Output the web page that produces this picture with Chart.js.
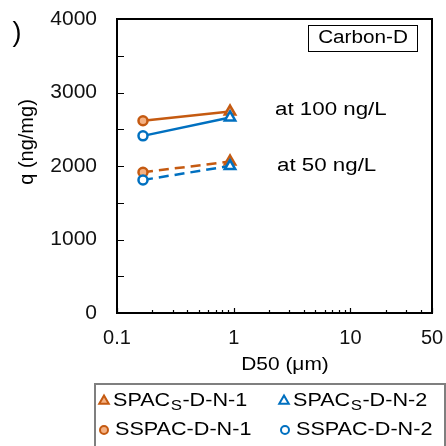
<!DOCTYPE html>
<html>
<head>
<meta charset="utf-8">
<script src="https://cdn.jsdelivr.net/npm/chart.js@4"></script>
<style>
	html, body { margin: 0; padding: 0; background: #fff; }
	#wrap { width: 446px; height: 446px; }
</style>
</head>
<body>
<div id="wrap"><canvas id="chart" width="446" height="446"></canvas></div>
<script>
// D50 of the two carbons: SSPAC (circles), SPACs (triangles)
const d50 = [0.167, 0.93];
const n1At100 = [2615, 2740];
const n2At100 = [2410, 2660];
const n1At50 = [1915, 2060];
const n2At50 = [1810, 2000];
const xTickLabels = [0.1, 1, 10, 50];
const yTickStep = 1000;
const levelLabels = ['at 100 ng/L', 'at 50 ng/L'];
const panelLabel = 'Carbon-D';
const legendNames = [
	['SPAC', 'S', '-D-N-1'],
	['SPAC', 'S', '-D-N-2'],
	['SSPAC', '', '-D-N-1'],
	['SSPAC', '', '-D-N-2'],
];

const orange = '#C55A11';
const orangeLight = '#F4B183';
const blue = '#0070C0';
const font = '"Liberation Sans", Arial, sans-serif';

function series(values, color, fill, dashed) {
	return {
		data: values.map((v, i) => ({ x: d50[i], y: v })),
		borderColor: color,
		borderWidth: 2.5,
		borderDash: dashed ? [10, 6] : [],
		pointStyle: ['circle', 'triangle'],
		pointRadius: [4.5, 6],
		pointBorderWidth: 2.5,
		pointBorderColor: color,
		pointBackgroundColor: fill,
		tension: 0,
	};
}

function textAt(ctx, text, x, y, size, align, sx) {
	ctx.save();
	ctx.font = `${size}px ${font}`;
	ctx.textBaseline = 'middle';
	ctx.textAlign = align;
	const w = ctx.measureText(text).width * sx;
	ctx.translate(x, y);
	ctx.scale(sx, 1);
	ctx.fillText(text, 0, 0);
	ctx.restore();
	return w;
}

function legendMarker(ctx, style, x, y, color, fill) {
	ctx.save();
	ctx.lineWidth = 2;
	ctx.strokeStyle = color;
	ctx.fillStyle = fill;
	ctx.beginPath();
	if (style === 'triangle') {
		const r = 5.5;
		ctx.moveTo(x, y - r);
		ctx.lineTo(x + r * 0.866, y + r / 2);
		ctx.lineTo(x - r * 0.866, y + r / 2);
		ctx.closePath();
	} else {
		ctx.arc(x, y, 4, 0, Math.PI * 2);
	}
	ctx.fill();
	ctx.stroke();
	ctx.restore();
}

function noPadding(scale) {
	scale.paddingTop = 0;
	scale.paddingBottom = 0;
	scale.paddingLeft = 0;
	scale.paddingRight = 0;
}

const decor = {
	id: 'decor',
	afterDraw(chart) {
		const ctx = chart.ctx;
		const a = chart.chartArea;
		const xs = chart.scales.x;
		const ys = chart.scales.y;
		ctx.save();
		ctx.strokeStyle = '#000';
		ctx.fillStyle = '#000';
		ctx.setLineDash([]);

		// inward tick marks
		ctx.lineWidth = 1.2;
		ctx.beginPath();
		xs.ticks.forEach((t) => {
			const px = Math.round(xs.getPixelForValue(t.value)) + 0.5;
			const len = xTickLabels.includes(t.value) ? 5 : 3;
			ctx.moveTo(px, a.bottom);
			ctx.lineTo(px, a.bottom - len);
		});
		ys.ticks.forEach((t) => {
			const py = Math.round(ys.getPixelForValue(t.value)) + 0.5;
			ctx.moveTo(a.left, py);
			ctx.lineTo(a.left + 7, py);
		});
		ctx.stroke();

		// frame
		ctx.lineWidth = 2;
		ctx.strokeRect(a.left, a.top, a.right - a.left, a.bottom - a.top);

		// panel letter (cut off) and axis titles
		textAt(ctx, ')', 17, 34, 27, 'center', 1);
		ctx.save();
		ctx.translate(27, 142);
		ctx.rotate(-Math.PI / 2);
		textAt(ctx, 'q (ng/mg)', 0, 0, 20, 'center', 1);
		ctx.restore();
		textAt(ctx, 'D50 (μm)', 285, 365, 19, 'center', 1.1);

		// Carbon-D box
		ctx.lineWidth = 1;
		ctx.strokeRect(308.5, 25.5, 109, 26);
		textAt(ctx, panelLabel, 363, 38.5, 18, 'center', 1.15);

		// concentration labels
		textAt(ctx, levelLabels[0], 275, 110, 18, 'left', 1.24);
		textAt(ctx, levelLabels[1], 277, 166, 18, 'left', 1.24);

		// legend
		ctx.strokeStyle = '#7F7F7F';
		ctx.lineWidth = 2;
		ctx.strokeRect(95, 384, 350, 80);
		const cells = [
			{ style: 'triangle', color: orange, fill: orangeLight, x: 104, tx: 113, y: 401 },
			{ style: 'triangle', color: blue, fill: '#fff', x: 284, tx: 293, y: 401 },
			{ style: 'circle', color: orange, fill: orangeLight, x: 104, tx: 115, y: 430 },
			{ style: 'circle', color: blue, fill: '#fff', x: 285, tx: 296, y: 430 },
		];
		cells.forEach((c, i) => {
			legendMarker(ctx, c.style, c.x, c.y, c.color, c.fill);
			const [main, sub, rest] = legendNames[i];
			let x = c.tx;
			x += textAt(ctx, main, x, c.y, 18, 'left', 1.2);
			if (sub) {
				x += textAt(ctx, sub, x + 0.5, c.y + 5, 14, 'left', 1.2) + 1;
			}
			textAt(ctx, rest, x, c.y, 18, 'left', 1.2);
		});
		ctx.restore();
	},
};

const ctx = document.getElementById('chart').getContext('2d');
const chart = new Chart(ctx, {
	type: 'line',
	data: {
		datasets: [
			series(n2At100, blue, '#fff', false),
			series(n1At100, orange, orangeLight, false),
			series(n2At50, blue, '#fff', true),
			series(n1At50, orange, orangeLight, true),
		],
	},
	options: {
		responsive: false,
		animation: false,
		layout: { padding: { top: 19, right: 14, left: 0, bottom: 0 } },
		plugins: { legend: { display: false }, tooltip: { enabled: false } },
		scales: {
			x: {
				type: 'logarithmic',
				min: 0.1,
				max: 50,
				grid: { display: false, drawTicks: false },
				border: { display: false },
				afterBuildTicks: (scale) => {
					const ticks = [];
					for (let e = -1; e <= 1; e++) {
						for (let m = 1; m <= 9; m++) {
							const v = parseFloat((m * Math.pow(10, e)).toPrecision(3));
							if (v <= 50) ticks.push({ value: v });
						}
					}
					scale.ticks = ticks;
				},
				afterFit: (scale) => {
					scale.height = 133;
					noPadding(scale);
				},
				ticks: {
					autoSkip: false,
					maxRotation: 0,
					padding: 13,
					color: '#111',
					font: { family: font, size: 20 },
					callback: (v) => (xTickLabels.includes(v) ? String(v) : ''),
				},
			},
			y: {
				min: 0,
				max: 4000,
				grid: { display: false, drawTicks: false },
				border: { display: false },
				afterFit: (scale) => {
					scale.width = 117;
					noPadding(scale);
				},
				ticks: {
					stepSize: 500,
					padding: 20,
					color: '#111',
					font: { family: font, size: 21 },
					callback: (v) => (v % yTickStep === 0 ? String(v) : ''),
				},
			},
		},
	},
	plugins: [decor],
});
</script>
</body>
</html>
